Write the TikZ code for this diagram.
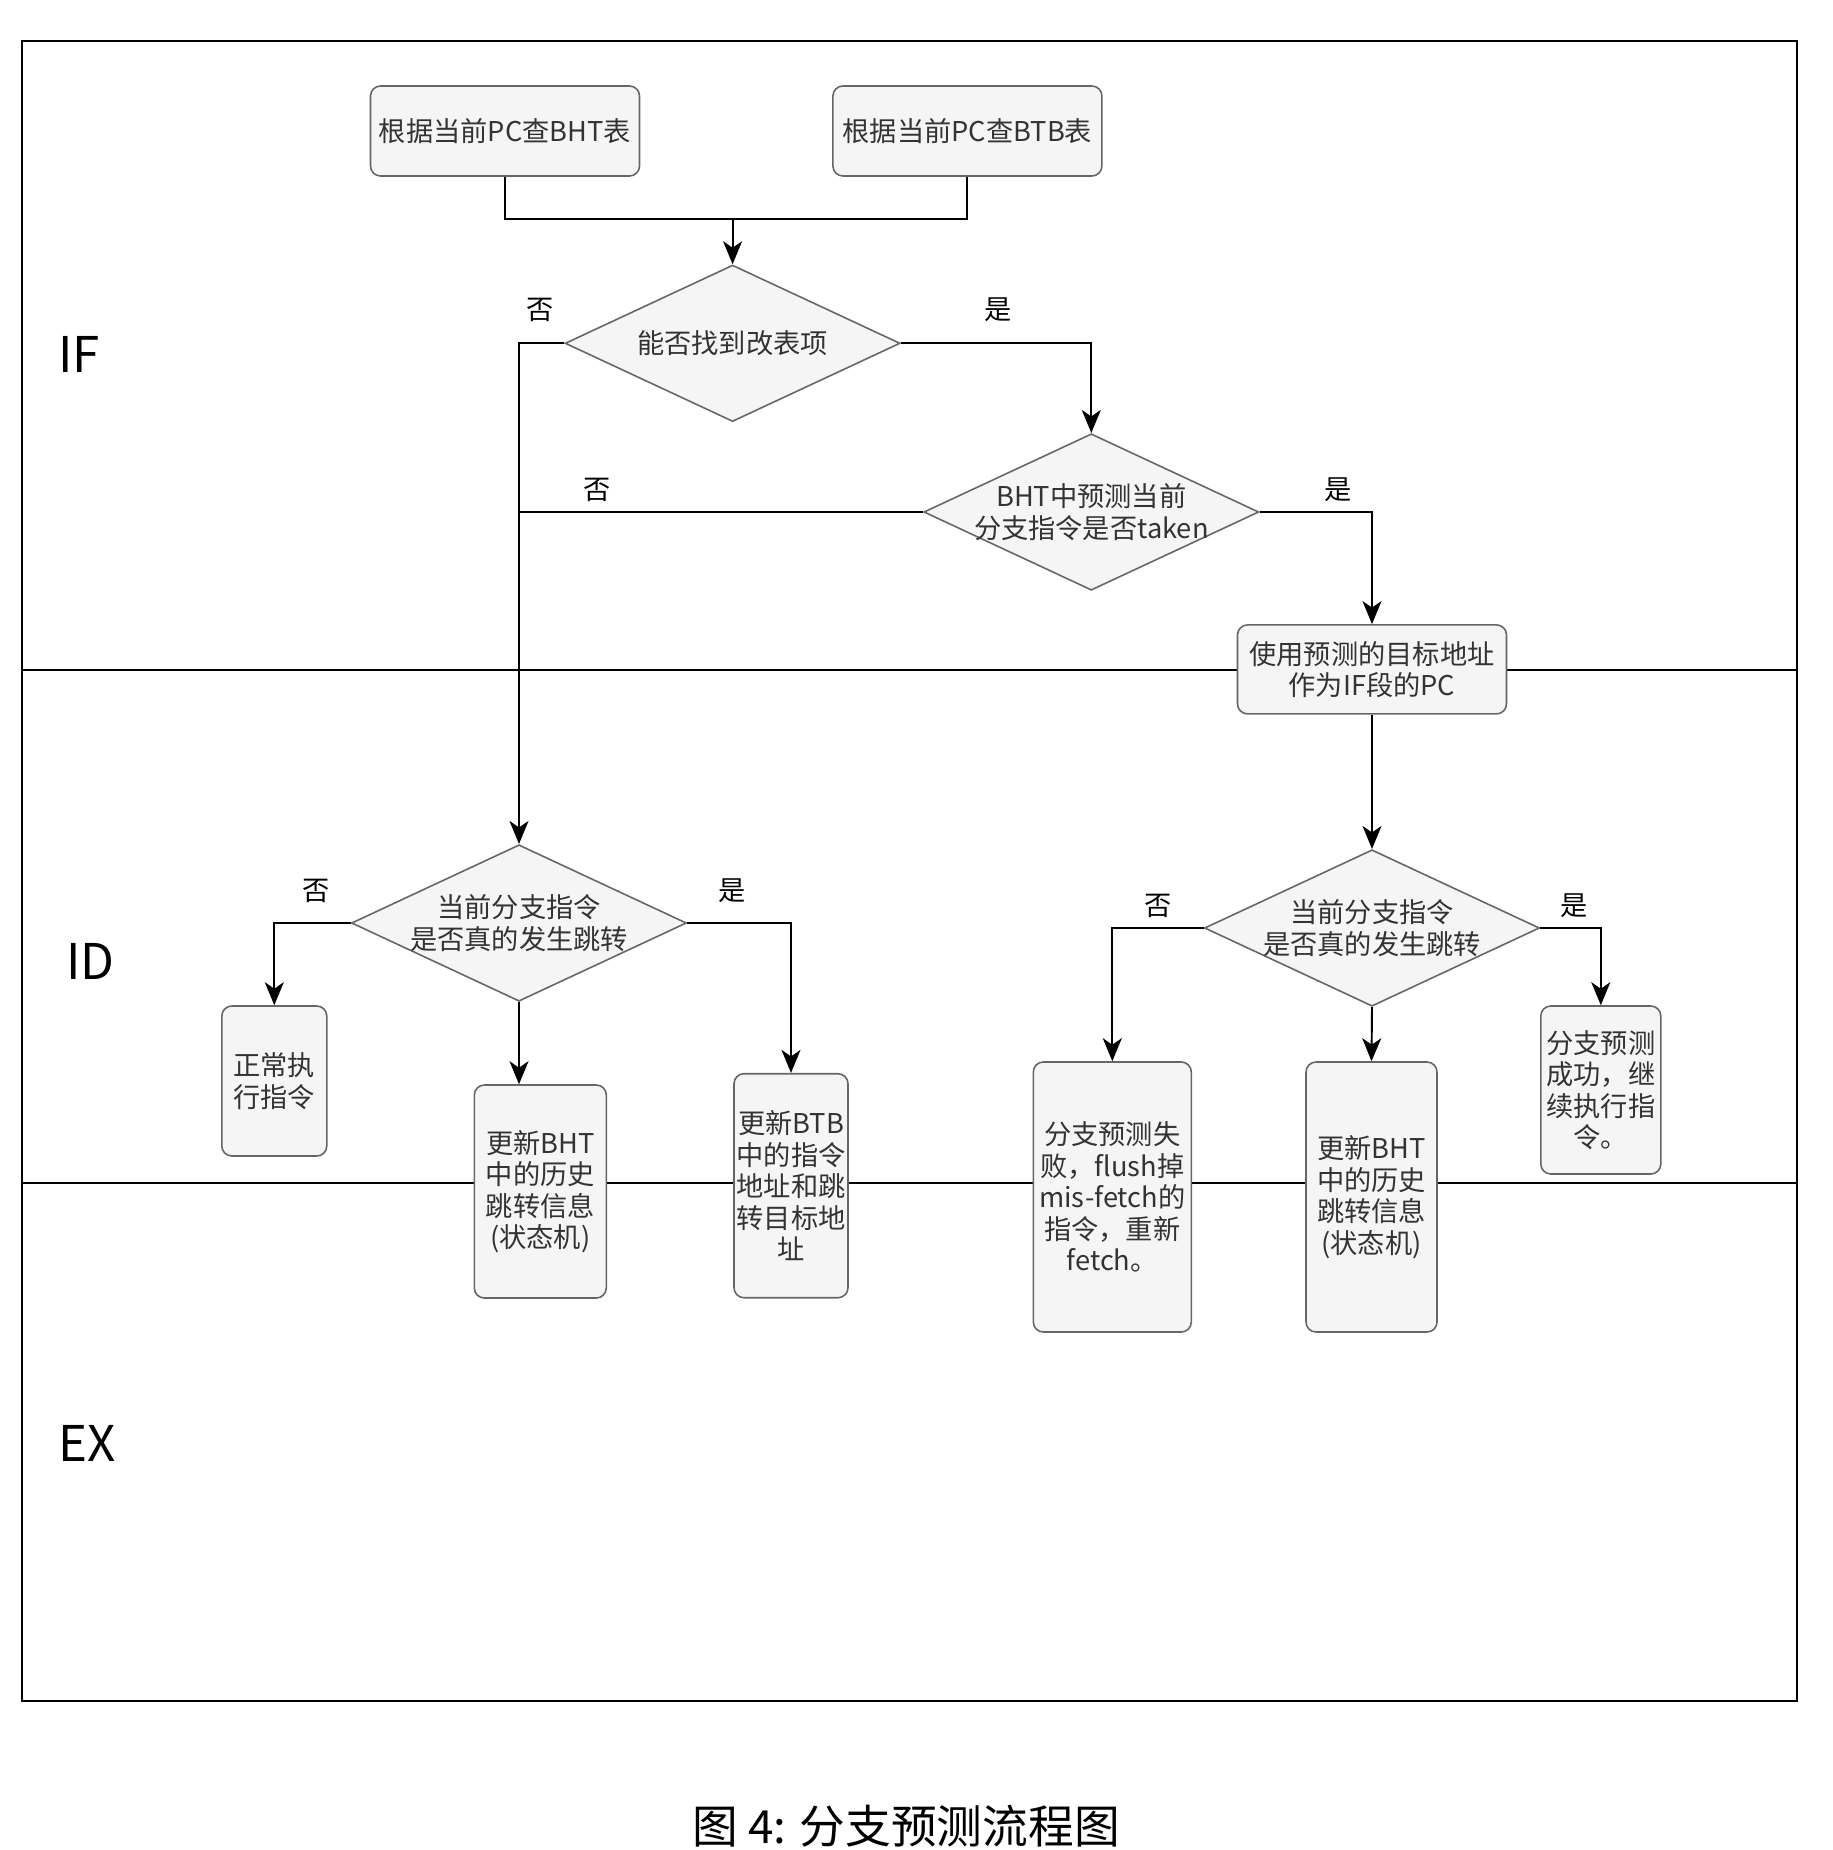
\documentclass[tikz,border=0pt]{standalone}
\usepackage{fontspec}
\setmainfont{Noto Sans CJK SC}
\usetikzlibrary{shapes.geometric,arrows.meta}
\definecolor{boxfill}{HTML}{F5F5F5}
\definecolor{boxline}{HTML}{666666}
\definecolor{boxtext}{HTML}{333333}

\begin{document}
\begin{tikzpicture}[x=0.2mm,y=-0.2mm,font=\fontsize{15.5}{17.9}\selectfont,
  proc/.style={draw=boxline,fill=boxfill,text=boxtext,rounded corners=2mm,line width=0.9pt,
               align=center,inner sep=1pt},
  dec/.style={diamond,draw=boxline,fill=boxfill,line width=0.9pt,
              inner sep=0pt,aspect=2.15,minimum width=67mm,minimum height=31.3mm},
  dtxt/.style={text=boxtext,align=center,inner sep=0pt},
  stage/.style={font=\fontsize{28}{34}\selectfont,anchor=west},
  yn/.style={text=black},
  lane/.style={line width=1.1pt},
  a/.style={-{Stealth[length=4.6mm,width=3.8mm,inset=1.3mm]},line width=1.1pt}]

\useasboundingbox (0,0) rectangle (1832,1850);
\draw[lane] (22.4,41.3) rectangle (1796.7,1701);
\draw[lane] (22.4,670) -- (1796.7,670); \draw[lane] (22.4,1183) -- (1796.7,1183);
\node[stage](IF) at (52,354){IF}; \node[stage](ID) at (60,961){ID}; \node[stage](EX) at (52,1443){EX};

\node[proc,minimum width=53.8mm,minimum height=18mm](BHT) at (505,131){根据当前PC查BHT表};
\node[proc,minimum width=53.8mm,minimum height=18mm](BTB) at (967.4,131){根据当前PC查BTB表};
\coordinate (J) at (732.6,219.4);
\node[dec](D1) at (732.6,343.3){}; \node[dtxt](D1t) at (D1){能否找到改表项};
\node[dec](D2) at (1091.3,512){}; \node[dtxt](D2t) at (D2){BHT中预测当前\\分支指令是否taken};
\node[proc,minimum width=53.8mm,minimum height=17.8mm](PC) at (1372,669.4){使用预测的目标地址\\作为IF段的PC};

\node[dec](D3) at (519,923){}; \node[dtxt](D3t) at (D3){当前分支指令\\是否真的发生跳转};
\node[dec](D4) at (1372,928){}; \node[dtxt](D4t) at (D4){当前分支指令\\是否真的发生跳转};
\node[proc,minimum width=21mm,minimum height=30mm](N) at (274.3,1081){正常执\\行指令};
\node[proc,minimum width=26.4mm,minimum height=42.6mm](U1) at (540.3,1191.5){更新BHT\\中的历史\\跳转信息\\(状态机)};
\node[proc,minimum width=22.8mm,minimum height=44.8mm](U2) at (791,1185.7){更新BTB\\中的指令\\地址和跳\\转目标地\\址};
\node[proc,minimum width=31.6mm,minimum height=54mm](F) at (1112.3,1197){分支预测失\\败，flush掉\\mis-fetch的\\指令，重新\\fetch。};
\node[proc,minimum width=26.2mm,minimum height=54mm](U3) at (1371.5,1197){更新BHT\\中的历史\\跳转信息\\(状态机)};
\node[proc,minimum width=24mm,minimum height=33.6mm](S) at (1600.8,1090){分支预测\\成功，继\\续执行指\\令。};

\node[yn](n1) at (540,310){否}; \node[yn](y1) at (998,310){是};
\node[yn](n2) at (597,490){否}; \node[yn](y2) at (1338,490){是};
\node[yn](n3) at (316,891){否}; \node[yn](y3) at (732.6,891){是};
\node[yn](n4) at (1158.5,906){否}; \node[yn](y4) at (1573.7,906){是};

\draw[lane] (BHT.south) |- (J) -| (BTB.south); \draw[a] (J) -- (D1.north);
\draw[a] (D1.west) -| (D3.north); \draw[a] (D1.east) -| (D2.north);
\draw[lane] (D2.west) -- (D2.west -| D3.north); \draw[a] (D2.east) -| (PC.north);
\draw[a] (PC.south) -- (D4.north);
\draw[a] (D3.west) -| (N.north); \draw[a] (D3.south) -- (D3.south |- U1.north);
\draw[a] (D3.east) -| (U2.north);
\draw[a] (D4.west) -| (F.north); \draw[a] (D4.south) -- (U3.north);
\draw[a] (D4.east) -| (S.north);

\node[font=\fontsize{26}{30}\selectfont,anchor=base](cap) at (906,1843){图 4: 分支预测流程图};
\end{tikzpicture}
\end{document}
